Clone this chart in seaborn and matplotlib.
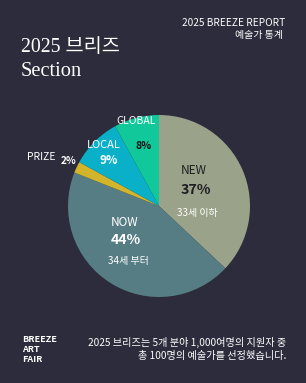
import matplotlib
matplotlib.use("Agg")
import matplotlib.pyplot as plt
import seaborn as sns

categories = ["NEW", "NOW", "PRIZE", "LOCAL", "GLOBAL"]
values = [37, 44, 2, 9, 8]
subtitles = ["33세 이하", "34세 부터", "", "", ""]
colors = ["#9aa28a", "#577d84", "#d2b52a", "#0ab0c8", "#10c89a"]

sns.set_theme(style="white")
plt.rcParams['font.family'] = ['Noto Sans CJK KR', 'DejaVu Sans']
BG = "#2d2c3c"
W, H = 306, 383
fig = plt.figure(figsize=(W / 100, H / 100), dpi=100, facecolor=BG)

def px(x, y):
    return x / W, 1 - y / H

def ftext(x, y, s, **kw):
    fx, fy = px(x, y)
    fig.text(fx, fy, s, **kw)

# Header
ftext(285, 23, "2025 BREEZE REPORT", ha="right", va="center", color="white", fontsize=7.3)
ftext(283, 35, "예술가 통계", ha="right", va="center", color="white", fontsize=7.2)
serif = ['Liberation Serif', 'Noto Sans CJK KR']
ftext(21, 47, "2025 브리즈", ha="left", va="center", color="white", fontsize=14.2, family=serif)
ftext(21, 72, "Section", ha="left", va="center", color="white", fontsize=14.8, family=serif)

# Pie
cx, cy, r = 159, 206, 91
ax = fig.add_axes([(cx - r) / W, 1 - (cy + r) / H, 2 * r / W, 2 * r / H])
ax.set_facecolor(BG)
ax.pie(values, colors=colors, startangle=90, counterclock=False, radius=1,
       wedgeprops=dict(linewidth=0))
ax.set_xlim(-1, 1)
ax.set_ylim(-1, 1)
ax.set_aspect("equal")
ax.axis("off")

atext = ftext

# NEW
atext(194, 171, categories[0], ha="center", va="center", color="#1e1e22", fontsize=8.5)
atext(196, 190, f"{values[0]}%", ha="center", va="center", color="#1e1e22", fontsize=10.2, fontweight="bold")
atext(197, 213, subtitles[0], ha="center", va="center", color="white", fontsize=7.2)
# NOW
atext(125, 222, categories[1], ha="center", va="center", color="white", fontsize=8.5)
atext(126, 240, f"{values[1]}%", ha="center", va="center", color="white", fontsize=10.2, fontweight="bold")
atext(128, 261, subtitles[1], ha="center", va="center", color="white", fontsize=7.2)
# PRIZE
atext(41, 157, categories[2], ha="center", va="center", color="white", fontsize=7.5)
atext(69, 161, f"{values[2]}%", ha="center", va="center", color="white", fontsize=7.3, fontweight="bold")
# LOCAL
atext(104, 145, categories[3], ha="center", va="center", color="white", fontsize=8)
atext(109, 161, f"{values[3]}%", ha="center", va="center", color="white", fontsize=8.5, fontweight="bold")
# GLOBAL
atext(136, 121, categories[4], ha="center", va="center", color="white", fontsize=7.5)
atext(144, 146, f"{values[4]}%", ha="center", va="center", color="#111111", fontsize=7.5, fontweight="bold")

# Footer
for i, w in enumerate(["BREEZE", "ART", "FAIR"]):
    ftext(22, 340 + i * 9.5, w, ha="left", va="center", color="white", fontsize=6.5, fontweight="bold")
ftext(286, 342, "2025 브리즈는 5개 분야 1,000여명의 지원자 중", ha="right", va="center", color="white", fontsize=7.3)
ftext(286, 356, "총 100명의 예술가를 선정했습니다.", ha="right", va="center", color="white", fontsize=7.3)

fig.savefig("out.png", dpi=100, facecolor=BG)
